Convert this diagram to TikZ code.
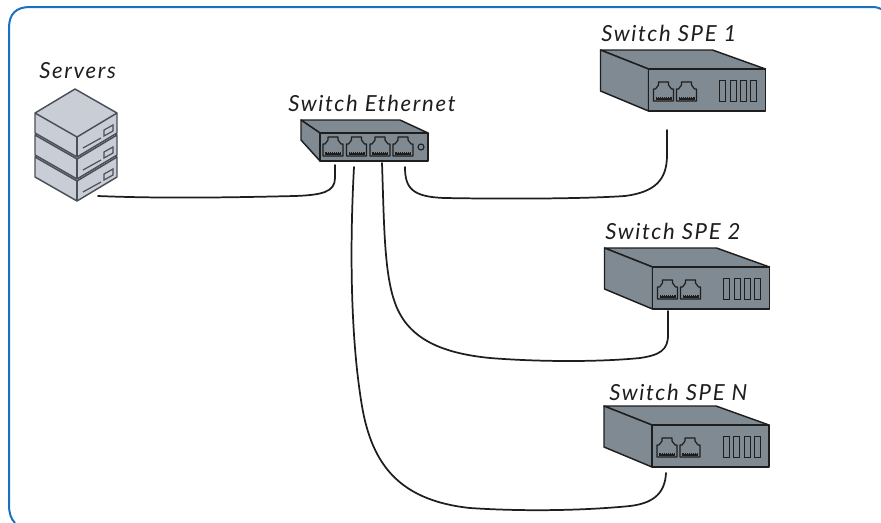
\documentclass[tikz,border=0pt]{standalone}
\usepackage{fontspec}
\newfontfamily\handfont[LetterSpace=7.5]{Lato}
\definecolor{ink}{HTML}{1E1E1E}
\definecolor{frameblue}{HTML}{1971C2}
\definecolor{boxgrey}{HTML}{7F8A93}
\definecolor{servergrey}{HTML}{C9CED6}
\definecolor{serverline}{HTML}{4A5058}
\tikzset{
  x=0.75pt,y=-0.75pt,
  wire/.style={draw=ink,line width=1.3pt,line cap=round},
  body/.style={draw=ink,fill=boxgrey,line width=1.1pt,line join=round},
  label/.style={font=\handfont\fontsize{16.6}{18}\selectfont\itshape,text=ink,inner sep=0pt,anchor=base west},
  pics/rj/.style={code={
    \draw[ink,line width=0.9pt,line join=round] (0,20)--(0,8)--(2,8)--(5,4)--(5,1)--(15,1)--(15,4)--(18,8)--(20,8)--(20,20)--cycle;
    \fill[ink] (2,16) rectangle (18,18.5);
    \foreach \t in {4,6,...,16}{\draw[boxgrey,line width=0.3pt] (\t,16)--(\t,17.2);}
  }},
  pics/spe/.style={code={
    \draw[body] (0,0)--(112,0)--(165,19)--(48,19)--cycle;
    \draw[body] (0,0)--(48,19)--(48,61)--(0,41)--cycle;
    \draw[body] (48,19)--(165,19)--(165,61)--(48,61)--cycle;
    \pic at (53,31) {rj};
    \pic at (76,31) {rj};
    \foreach \s in {119,129.5,140,150}{\draw[ink,line width=0.65pt] (\s,30) rectangle ++(6,21);}
  }},
  pics/srv/.style={code={
    \draw[draw=serverline,fill=servergrey,line width=1.1pt,line join=round]
      (0,0)--(42,24)--(82,0)--(40,-24)--cycle
      (0,0)--(0,20)--(42,44)--(82,20)--(82,0)--(42,24)--cycle;
    \draw[draw=serverline,line width=1.1pt] (42,24)--(42,44);
    \draw[draw=serverline,line width=0.9pt] (48,35)--(66,25);
    \draw[draw=serverline,line width=0.9pt] (69,17)--(78,12)--(78,18)--(69,23)--cycle;
  }}
}
\begin{document}
\begin{tikzpicture}
\useasboundingbox (0,0) rectangle (881,522);
% frame
\draw[frameblue,line width=1.5pt] (881,9) .. controls (877,7) and (874,7) .. (870,7) -- (30,7) .. controls (16,7) and (9,14) .. (9,28) -- (9,505) .. controls (9,513) and (11,519) .. (15,523);
% servers
\pic at (35,157) {srv};
\pic at (35,135) {srv};
\pic at (35,113) {srv};
\node[label] (lsrv) at (39,78) {Servers};
% ethernet switch
\draw[body] (301,120)--(400,120)--(428,133)--(320,133)--cycle;
\draw[body] (301,120)--(320,133)--(320,161)--(301,140)--cycle;
\draw[body] (320,133)--(428,133)--(428,161)--(320,161)--cycle;
\pic at (323,136) {rj};
\pic at (346.5,136) {rj};
\pic at (370,136) {rj};
\pic at (393,136) {rj};
\draw[ink,line width=0.8pt] (421,147) circle (3);
\node[label] (leth) at (288,111) {Switch Ethernet};
% SPE switches
\pic at (600.5,50) {spe};
\node[label] (l1) at (601,41) {Switch SPE 1};
\pic at (604.5,248) {spe};
\node[label] (l2) at (605,239) {Switch SPE 2};
\pic at (604,406) {spe};
\node[label] (l3) at (609,400) {Switch SPE N};
% connector ends
\coordinate (srvport) at (98,196);
\coordinate (e1) at (335,165);
\coordinate (e2) at (354,167);
\coordinate (e3) at (382,163);
\coordinate (e4) at (405,167);
\coordinate (s1) at (667,130);
\coordinate (s2) at (668,311);
\coordinate (s3) at (666,473);
% connectors
\draw[wire] (srvport) .. controls (170,199) and (250,197) .. (295,196) .. controls (322,195) and (335,192) .. (335,178) -- (e1);
\draw[wire] (e4) .. controls (405,188) and (412,197) .. (445,198) .. controls (500,199) and (580,199) .. (625,196) .. controls (655,192) and (667,180) .. (667,155) -- (s1);
\draw[wire] (e3) .. controls (384,220) and (384,270) .. (394,300) .. controls (406,338) and (440,353) .. (490,358) .. controls (540,362) and (600,362) .. (640,358) .. controls (660,355) and (668,350) .. (668,335) -- (s2);
\draw[wire] (e2) .. controls (350,240) and (350,330) .. (361,400) .. controls (370,460) and (395,500) .. (470,508) .. controls (530,512) and (590,510) .. (630,506) .. controls (655,503) and (665,492) .. (s3);
\end{tikzpicture}
\end{document}
